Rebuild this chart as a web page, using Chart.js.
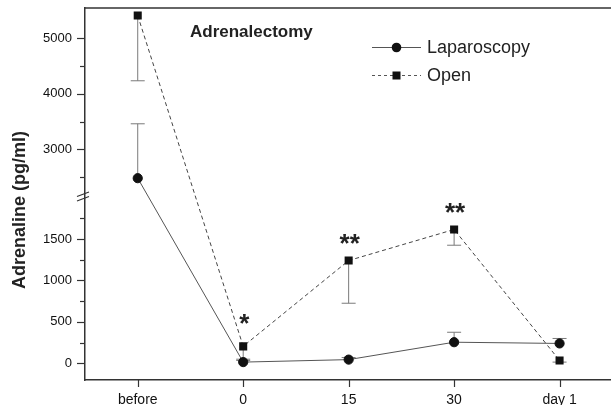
<!DOCTYPE html>
<html>
<head>
<meta charset="utf-8">
<script src="https://cdn.jsdelivr.net/npm/chart.js@4/dist/chart.umd.min.js"></script>
<style>
  html, body { margin: 0; padding: 0; background: #fff; overflow: hidden; }
  #wrap { width: 618px; height: 405px; }
</style>
</head>
<body>
<div id="wrap"><canvas id="adrChart" width="618" height="405"></canvas></div>
<script>
// categories and values (pg/ml)
const categories = ['before', '0', '15', '30', 'day 1'];
const lapMean = [2480, 15, 45, 255, 240];
const lapErrTop = [3460, 35, 70, 375, 300];      // error bars go up
const openMean = [5410, 205, 1240, 1615, 35];
const openErrBottom = [4235, 50, 725, 1425, 15]; // error bars go down
const stars = ['', '*', '**', '**', ''];

const majorTicks = [0, 500, 1000, 1500, 3000, 4000, 5000];
const minorTicks = [250, 750, 1250, 1750, 2500, 3500, 4500];

// broken axis: lower part is linear up to ~2100, upper part compressed
function toAxis(v) {
    if (v <= 2100) return v;
    return 2582 + (v - 3000) * 0.6697;
}

const yTicks = majorTicks.concat(minorTicks).sort((a, b) => a - b);

const overlay = {
    id: 'overlay',
    beforeDatasetsDraw(chart) {
        const ctx = chart.ctx;
        const xs = chart.scales.x, ys = chart.scales.y;
        ctx.save();
        ctx.strokeStyle = '#7a7a7a';
        ctx.lineWidth = 1;
        function bar(i, from, to) {
            const x = xs.getPixelForValue(i);
            const y1 = ys.getPixelForValue(toAxis(from));
            const y2 = ys.getPixelForValue(toAxis(to));
            ctx.beginPath();
            ctx.moveTo(x, y1); ctx.lineTo(x, y2);
            ctx.moveTo(x - 7, y2); ctx.lineTo(x + 7, y2);
            ctx.stroke();
        }
        for (let i = 0; i < categories.length; i++) {
            bar(i, lapMean[i], lapErrTop[i]);
            bar(i, openMean[i], openErrBottom[i]);
        }
        ctx.restore();
    },
    afterDraw(chart) {
        const ctx = chart.ctx;
        const xs = chart.scales.x, ys = chart.scales.y;
        const a = chart.chartArea;
        ctx.save();
        ctx.strokeStyle = '#333';
        ctx.lineWidth = 1.5;
        // top frame line
        ctx.beginPath();
        ctx.moveTo(a.left, a.top); ctx.lineTo(chart.width, a.top);
        ctx.stroke();
        // y tick marks
        ctx.lineWidth = 1.2;
        yTicks.forEach(v => {
            const y = Math.round(ys.getPixelForValue(toAxis(v))) + 0.5;
            const len = majorTicks.includes(v) ? 8 : 5;
            ctx.beginPath();
            ctx.moveTo(a.left - len, y); ctx.lineTo(a.left, y);
            ctx.stroke();
        });
        // x tick marks
        categories.forEach((c, i) => {
            const x = Math.round(xs.getPixelForValue(i)) + 0.5;
            ctx.beginPath();
            ctx.moveTo(x, a.bottom); ctx.lineTo(x, a.bottom + 7);
            ctx.stroke();
        });
        // axis break marks
        ctx.lineWidth = 1.2;
        ctx.beginPath();
        ctx.moveTo(a.left - 8, 196.5); ctx.lineTo(a.left + 4, 192);
        ctx.moveTo(a.left - 8, 201); ctx.lineTo(a.left + 4, 196.5);
        ctx.stroke();

        // axis title
        ctx.fillStyle = '#222';
        ctx.font = 'bold 18px "Liberation Sans", Arial, sans-serif';
        ctx.textAlign = 'center';
        ctx.textBaseline = 'middle';
        ctx.save();
        ctx.translate(20, 210);
        ctx.rotate(-Math.PI / 2);
        ctx.fillText('Adrenaline (pg/ml)', 0, 0);
        ctx.restore();

        // panel label
        ctx.font = 'bold 17px "Liberation Sans", Arial, sans-serif';
        ctx.textAlign = 'left';
        ctx.fillText('Adrenalectomy', 190, 32);

        // significance stars
        ctx.font = 'bold 26px "Liberation Sans", Arial, sans-serif';
        ctx.textAlign = 'center';
        stars.forEach((s, i) => {
            if (!s) return;
            const x = xs.getPixelForValue(i);
            const y = ys.getPixelForValue(toAxis(openMean[i]));
            ctx.fillText(s, x + 1, y - (i === 1 ? 22 : 16));
        });

        // legend
        ctx.font = '18px "Liberation Sans", Arial, sans-serif';
        ctx.textAlign = 'left';
        ctx.strokeStyle = '#555';
        ctx.lineWidth = 1;
        ctx.beginPath();
        ctx.moveTo(372, 47.5); ctx.lineTo(421, 47.5);
        ctx.stroke();
        ctx.fillStyle = '#111';
        ctx.beginPath();
        ctx.arc(396.5, 47.5, 4.8, 0, Math.PI * 2);
        ctx.fill();
        ctx.setLineDash([3, 3]);
        ctx.beginPath();
        ctx.moveTo(372, 75.5); ctx.lineTo(421, 75.5);
        ctx.stroke();
        ctx.setLineDash([]);
        ctx.fillRect(392.5, 71.5, 8, 8);
        ctx.fillStyle = '#222';
        ctx.fillText('Laparoscopy', 427, 48);
        ctx.fillText('Open', 427, 76);
        ctx.restore();
    }
};

const data = {
    labels: categories,
    datasets: [
        {
            label: 'Laparoscopy',
            data: lapMean.map(toAxis),
            borderColor: '#555',
            borderWidth: 1,
            pointStyle: 'circle',
            pointRadius: 4.6,
            pointBorderWidth: 1,
            pointBackgroundColor: '#111',
            pointBorderColor: '#111',
            fill: false,
            tension: 0
        },
        {
            label: 'Open',
            data: openMean.map(toAxis),
            borderColor: '#444',
            borderWidth: 1,
            borderDash: [4, 3],
            pointStyle: 'rect',
            pointRadius: 5.7,
            pointBorderWidth: 0,
            pointBackgroundColor: '#111',
            pointBorderColor: '#111',
            fill: false,
            tension: 0
        }
    ]
};

const config = {
    type: 'line',
    data: data,
    options: {
        responsive: false,
        animation: false,
        layout: { padding: { top: 8, left: 0, right: 1, bottom: 0 } },
        plugins: {
            legend: { display: false },
            tooltip: { enabled: false }
        },
        scales: {
            x: {
                type: 'category',
                offset: true,
                grid: { display: false, drawTicks: false },
                border: { color: '#333', width: 1.5 },
                ticks: {
                    padding: 12,
                    color: '#111',
                    maxRotation: 0,
                    font: { family: '"Liberation Sans", Arial, sans-serif', size: 14 }
                },
                afterFit(s) { s.height = 25; s.paddingLeft = 0; s.paddingRight = 0; }
            },
            y: {
                type: 'linear',
                min: -201,
                max: 4287,
                grid: { display: false, drawTicks: false },
                border: { color: '#333', width: 1.5 },
                afterBuildTicks(s) {
                    s.ticks = yTicks.map(v => ({ value: toAxis(v) }));
                },
                ticks: {
                    padding: 13,
                    color: '#111',
                    font: { family: '"Liberation Sans", Arial, sans-serif', size: 13 },
                    callback(value, i) {
                        const v = yTicks[i];
                        return majorTicks.includes(v) ? String(v) : '';
                    }
                },
                afterFit(s) { s.width = 85; s.paddingTop = 0; s.paddingBottom = 0; }
            }
        }
    },
    plugins: [overlay]
};

var ctx = document.getElementById('adrChart').getContext('2d');
var adrChart = new Chart(ctx, config);
</script>
</body>
</html>
